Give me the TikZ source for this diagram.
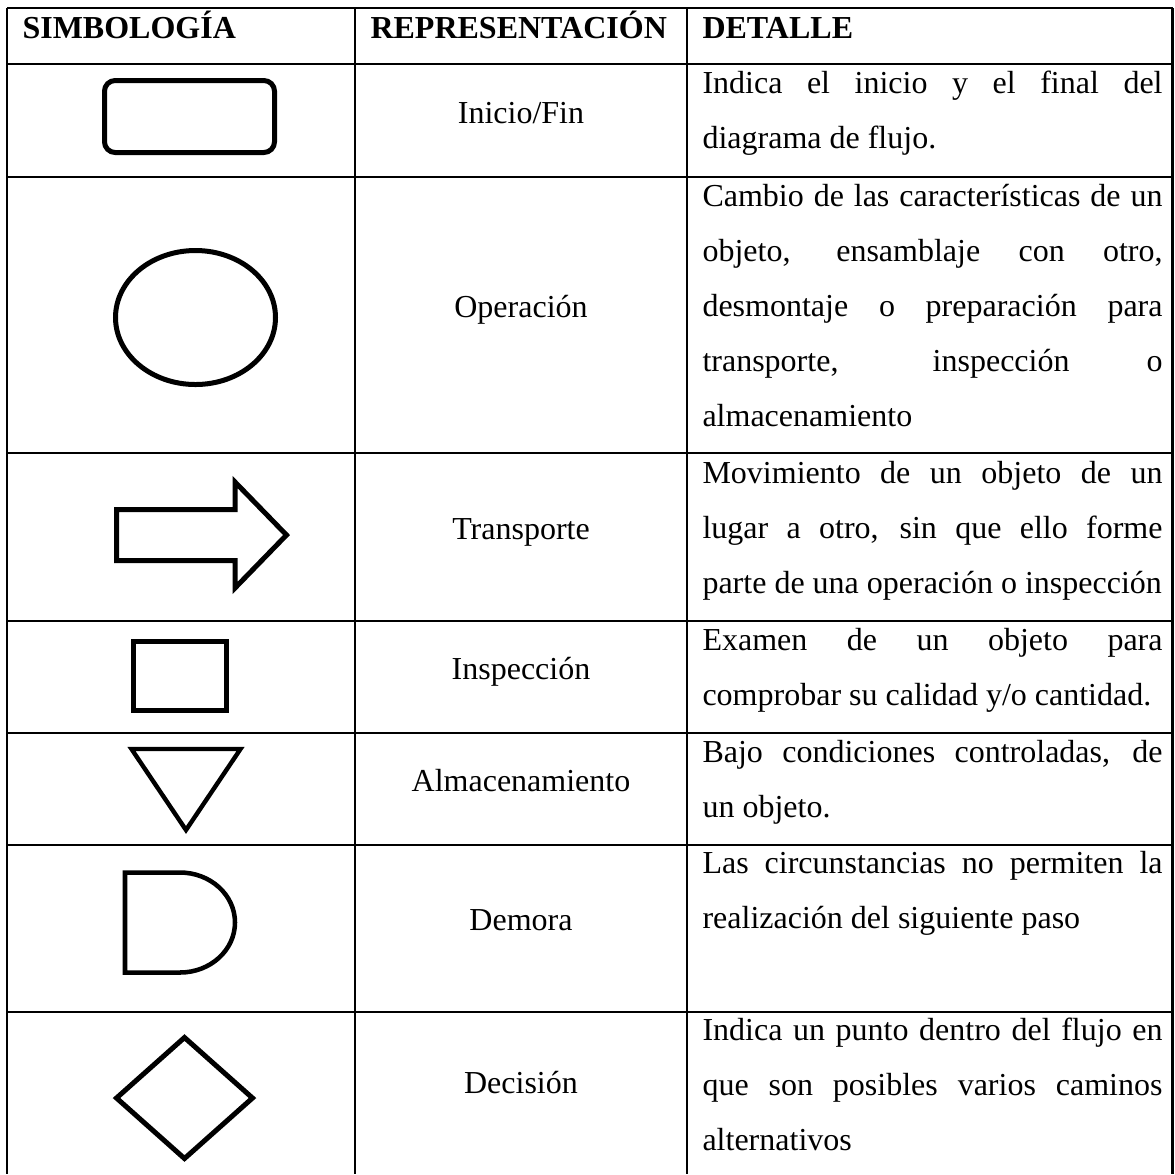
\documentclass[tikz,border=0pt]{standalone}
\usepackage{fontspec}
\setmainfont{Liberation Serif}
\newlength\pxu
\setlength\pxu{0.375pt}
\newcommand\jl[1]{\makebox[460\pxu][s]{#1}}
\newcommand\cell[1]{\parbox[t]{460\pxu}{\setlength\baselineskip{55\pxu}#1}}
\begin{document}
\begin{tikzpicture}[x=0.375pt, y=-0.375pt,
  font=\fontsize{12pt}{14pt}\selectfont,
  gridline/.style={line width=0.94pt},
  shp/.style={line width=1.875pt, line join=miter},
  hdr/.style={font=\fontsize{12pt}{14pt}\selectfont\bfseries, anchor=base west, inner sep=0pt},
  lbl/.style={anchor=base, inner sep=0pt},
  det/.style={anchor=base west, inner sep=0pt}]
\useasboundingbox (0,0) rectangle (1175,1174);
% grid
\foreach \yy in {8,64,177,453,621,733,845,1012}
  \draw[gridline] (7,\yy) -- (1172.5,\yy);
\foreach \xx in {7,355,687,1172.5}
  \draw[gridline] (\xx,8) -- (\xx,1174);
% headers
\node[hdr] (h1) at (22,38) {SIMBOLOGÍA};
\node[hdr] (h2) at (370,38) {REPRESENTACIÓN};
\node[hdr] (h3) at (702,38) {DETALLE};
% representation labels
\node[lbl] (r1) at (521,123) {Inicio/Fin};
\node[lbl] (r2) at (521,317) {Operación};
\node[lbl] (r3) at (521,539) {Transporte};
\node[lbl] (r4) at (521,679) {Inspección};
\node[lbl] (r5) at (521,791) {Almacenamiento};
\node[lbl] (r6) at (521,930) {Demora};
\node[lbl] (r7) at (521,1093) {Decisión};
% details
\node[det] (d1) at (702,93) {\cell{\jl{Indica el inicio y el final del}\\diagrama de flujo.}};
\node[det] (d2) at (702,206) {\cell{\jl{Cambio de las características de un}\\\jl{objeto, ensamblaje con otro,}\\\jl{desmontaje o preparación para}\\\jl{transporte, inspección o}\\almacenamiento}};
\node[det] (d3) at (702,483) {\cell{\jl{Movimiento de un objeto de un}\\\jl{lugar a otro, sin que ello forme}\\parte de una operación o inspección}};
\node[det] (d4) at (702,650) {\cell{\jl{Examen de un objeto para}\\comprobar su calidad y/o cantidad.}};
\node[det] (d5) at (702,762) {\cell{\jl{Bajo condiciones controladas, de}\\un objeto.}};
\node[det] (d6) at (702,873) {\cell{\jl{Las circunstancias no permiten la}\\realización del siguiente paso}};
\node[det] (d7) at (702,1040) {\cell{\jl{Indica un punto dentro del flujo en}\\\jl{que son posibles varios caminos}\\alternativos}};
% symbols
\draw[shp, rounded corners=4pt] (104.5,80.5) rectangle (274.5,152.5);
\draw[shp] (195.5,317.5) ellipse [x radius=30pt, y radius=25.125pt];
\draw[shp] (116.5,509.5) -- (235,509.5) -- (235,482) -- (286.5,535) -- (235,588) -- (235,560.5) -- (116.5,560.5) -- cycle;
\draw[shp] (133.5,641.5) rectangle (226.5,710.5);
\draw[shp, line width=1.65pt] (131.5,749) -- (240.5,749) -- (186,830) -- cycle;
\draw[shp, line width=1.7pt] (125,872.5) -- (180,872.5) arc[start angle=90, end angle=-90, x radius=20.625pt, y radius=18.75pt] -- (125,972.5) -- cycle;
\draw[shp] (116.5,1098) -- (184.5,1037.5) -- (252.5,1098) -- (184.5,1158.5) -- cycle;
\end{tikzpicture}
\end{document}
